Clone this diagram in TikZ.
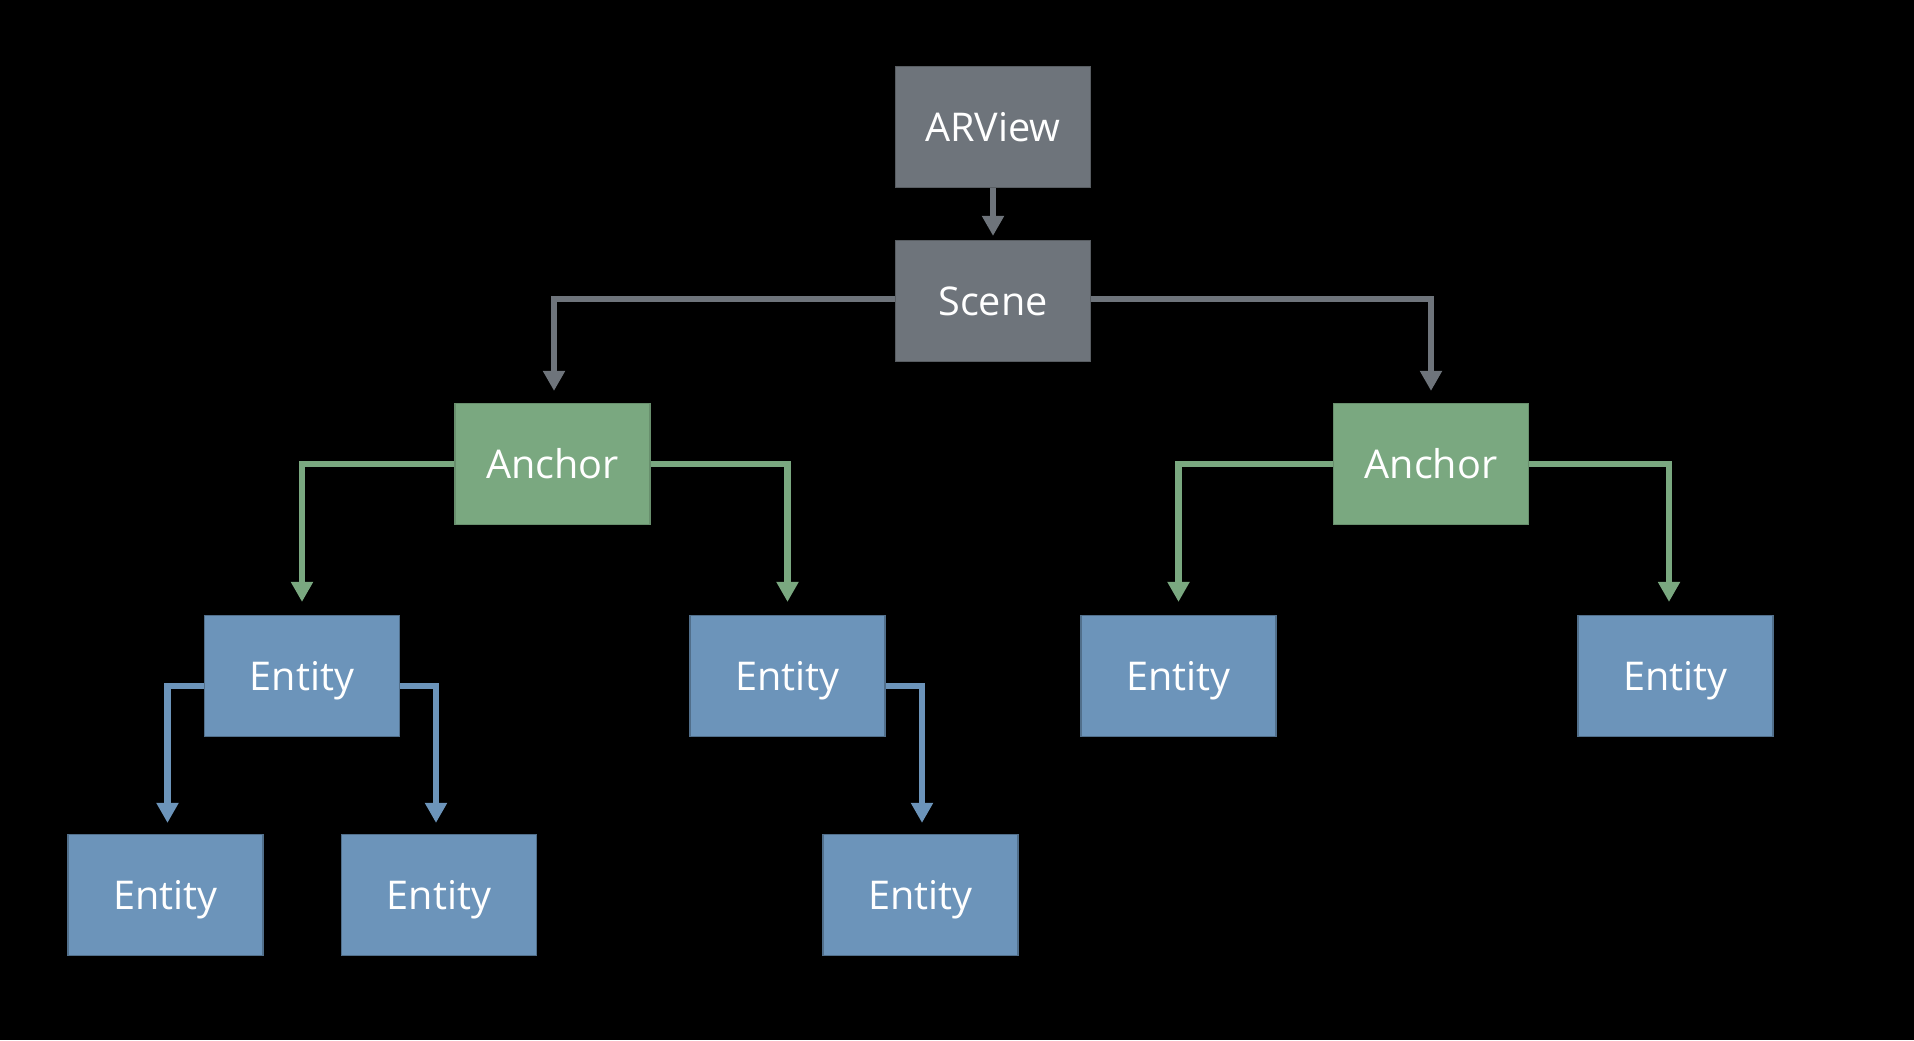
\documentclass[tikz,border=0pt]{standalone}
\usepackage{fontspec}
\setmainfont{Open Sans}
\usetikzlibrary{arrows.meta}
\definecolor{cgray}{RGB}{110,116,123}
\definecolor{cgreen}{RGB}{122,168,128}
\definecolor{cblue}{RGB}{108,148,186}
\tikzset{
  box/.style={rectangle, inner sep=0pt, minimum width=97.5pt, minimum height=60.5pt,
    text height=14pt, text depth=0pt,
    text=white, font=\fontsize{19.8pt}{22pt}\selectfont, line width=0.6pt},
  graybox/.style={box, fill=cgray, draw=cgray!80!black},
  greenbox/.style={box, fill=cgreen, draw=cgreen!85!black},
  bluebox/.style={box, fill=cblue, draw=cblue!75!black},
  conn/.style={line width=3.25pt, -{Triangle[width=10.5pt,length=10pt]}},
  gconn/.style={conn, draw=cgray},
  grconn/.style={conn, draw=cgreen},
  bconn/.style={conn, draw=cblue}
}
\begin{document}
\begin{tikzpicture}[x=0.5pt,y=-0.5pt]
\fill[black] (0,0) rectangle (1914,1040);
\useasboundingbox (0,0) rectangle (1914,1040);

\node[graybox] (arview) at (993,127) {ARView};
\node[graybox] (scene) at (993,301) {Scene};
\node[greenbox] (anchorL) at (552.5,464) {Anchor};
\node[greenbox] (anchorR) at (1431,464) {Anchor};
\node[bluebox] (e1) at (302,676) {Entity};
\node[bluebox] (e2) at (787.5,676) {Entity};
\node[bluebox] (e3) at (1178.5,676) {Entity};
\node[bluebox] (e4) at (1675.5,676) {Entity};
\node[bluebox] (e11) at (165.5,895) {Entity};
\node[bluebox] (e12) at (439,895) {Entity};
\node[bluebox] (e21) at (920.5,895) {Entity};

\draw[gconn] (arview.south) -- ([yshift=2pt]scene.north);
\draw[gconn] ([yshift=1pt]scene.west) -| ([xshift=0.75pt,yshift=6pt]anchorL.north);
\draw[gconn] ([yshift=1pt]scene.east) -| ([yshift=6pt]anchorR.north);

\draw[grconn] (anchorL.west) -| ([yshift=6.5pt]e1.north);
\draw[grconn] (anchorL.east) -| ([yshift=6.5pt]e2.north);
\draw[grconn] (anchorR.west) -| ([yshift=6.5pt]e3.north);
\draw[grconn] (anchorR.east) -| ([xshift=-3.25pt,yshift=6.5pt]e4.north);

\draw[bconn] ([yshift=-5pt]e1.west) -| ([xshift=1pt,yshift=5.5pt]e11.north);
\draw[bconn] ([yshift=-5pt]e1.east) -| ([xshift=-1.5pt,yshift=5.5pt]e12.north);
\draw[bconn] ([yshift=-5pt]e2.east) -| ([xshift=0.75pt,yshift=5.5pt]e21.north);
\end{tikzpicture}
\end{document}
